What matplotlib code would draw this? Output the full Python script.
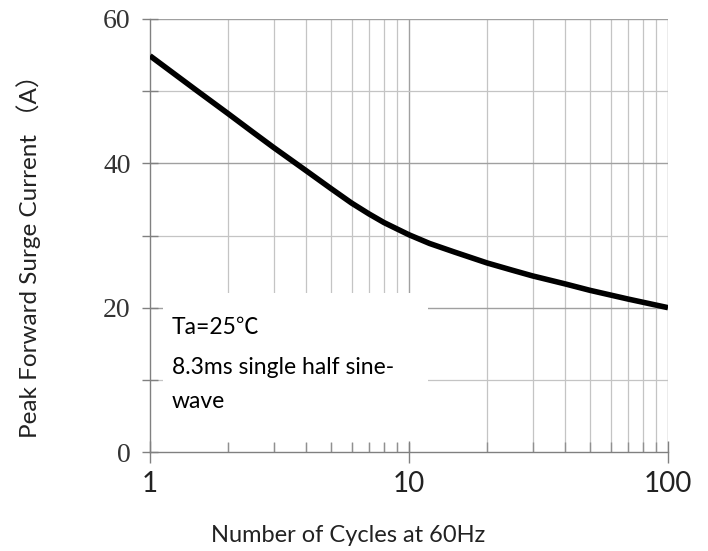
import matplotlib.pyplot as plt
from matplotlib.patches import Rectangle
from matplotlib.ticker import FixedLocator, NullFormatter

# surge current vs number of cycles
cycles = [1, 1.5, 2, 2.5, 3, 4, 5, 6, 7, 8, 9, 10, 12, 15, 20, 25, 30, 40, 50, 70, 100]
current = [54.9, 50.2, 46.9, 44.3, 42.2, 39.0, 36.5, 34.5, 33.0, 31.8, 30.9, 30.1,
           28.9, 27.7, 26.2, 25.2, 24.4, 23.3, 22.4, 21.2, 20.0]

y_ticks = [0, 20, 40, 60]
x_ticks = [1, 10, 100]
x_ticklabels = ['1', '10', '100']

sans = ['Lato', 'Noto Sans CJK SC', 'DejaVu Sans']

fig = plt.figure(figsize=(7.08, 5.51), dpi=100)
ax = fig.add_axes([150/708, 1-452/551, 518/708, 433/551])

ax.set_xscale('log')
ax.set_xlim(1, 100)
ax.set_ylim(0, 60)

# grid
minor_x = [m*d for d in (1, 10) for m in range(2, 10)]
for x in minor_x:
    ax.axvline(x, color='#c4c4c4', lw=0.9, zorder=0.5)
ax.axvline(10, color='#a0a0a0', lw=1.0, zorder=0.5)
ax.axvline(100, color='#a0a0a0', lw=1.0, zorder=0.5)
for y in [10, 30, 50]:
    ax.axhline(y, color='#c4c4c4', lw=0.9, zorder=0.5)
for y in [20, 40, 60]:
    ax.axhline(y, color='#a0a0a0', lw=1.0, zorder=0.5)

# white box behind the note
ax.add_patch(Rectangle((1.12, 1.27), 11.8-1.12, 22.05-1.27, facecolor='white',
                       edgecolor='none', zorder=1))

ax.plot(cycles, current, color='black', lw=4.0, solid_capstyle='butt',
        solid_joinstyle='round', zorder=3)

ax.text(1.216, 17.2, 'Ta=25℃', family=sans, fontsize=16.5, va='center', zorder=4)
ax.text(1.216, 11.66, '8.3ms single half sine-', family=sans, fontsize=16.5, va='center', zorder=4)
ax.text(1.216, 6.95, 'wave', family=sans, fontsize=16.5, va='center', zorder=4)

for s in ['top', 'right']:
    ax.spines[s].set_visible(False)
for s in ['left', 'bottom']:
    ax.spines[s].set_color('#808080')
    ax.spines[s].set_linewidth(1.0)

ax.yaxis.set_major_locator(FixedLocator(y_ticks))
ax.yaxis.set_minor_locator(FixedLocator([10, 30, 50]))
ax.set_yticklabels([str(v) for v in y_ticks], family='Liberation Serif', fontsize=20,
                   color='#333333')
ax.tick_params(axis='y', which='both', direction='inout', length=12, width=1.0,
               color='#808080', pad=8)

ax.xaxis.set_major_locator(FixedLocator(x_ticks))
ax.xaxis.set_minor_locator(FixedLocator(minor_x))
ax.xaxis.set_minor_formatter(NullFormatter())
ax.set_xticklabels(x_ticklabels, family=sans, fontsize=20, color='#222222')
ax.tick_params(axis='x', which='major', direction='inout', length=16, width=1.0,
               color='#808080', pad=6)
ax.tick_params(axis='x', which='minor', direction='in', length=7, width=1.0,
               color='#909090')

fig.text(348/708, 1-535/551, 'Number of Cycles at 60Hz', family=sans, fontsize=17,
         ha='center', va='center', color='#222222')
fig.text(29/708, 1-250/551, 'Peak Forward Surge Current （A）', family=sans, fontsize=17.5,
         ha='center', va='center', rotation=90, color='#222222')

fig.savefig('out.png', dpi=100)
